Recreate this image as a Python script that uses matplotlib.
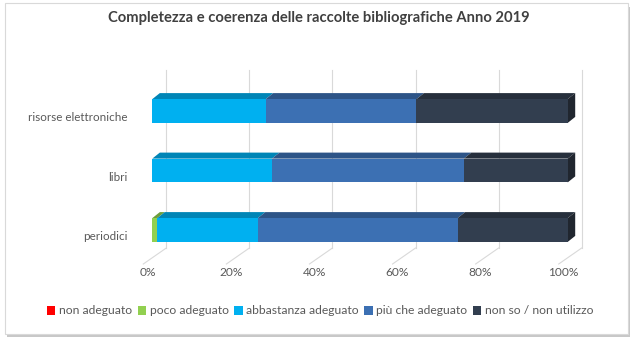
import numpy as np
import matplotlib.pyplot as plt
from matplotlib.patches import Polygon, Patch, FancyBboxPatch
import matplotlib.transforms as mtransforms

plt.rcParams['font.family'] = ['Lato', 'DejaVu Sans']

categories = ['periodici', 'libri', 'risorse elettroniche']
series = ['non adeguato', 'poco adeguato', 'abbastanza adeguato', 'più che adeguato', 'non so / non utilizzo']
values = {
    'non adeguato':          [0.0, 0.0, 0.0],
    'poco adeguato':         [1.2, 0.0, 0.0],
    'abbastanza adeguato':   [24.2, 28.8, 27.3],
    'più che adeguato':      [48.1, 46.2, 36.3],
    'non so / non utilizzo': [26.5, 25.0, 36.4],
}
front = ['#FF0000', '#92D050', '#00B0F0', '#3C70B3', '#323E4F']
top = ['#B30000', '#6E9E3C', '#0085B6', '#2D5487', '#262F3C']
side = ['#990000', '#5E8733', '#00729C', '#264873', '#20262F']
ticks = [0, 20, 40, 60, 80, 100]
tick_labels = ['0%', '20%', '40%', '60%', '80%', '100%']

fig = plt.figure(figsize=(6.33, 3.42), dpi=100)
W, H = 633, 342

# outer frame with soft shadow
fig.patches.append(FancyBboxPatch((7 / W, 5 / H), 623 / W, 330 / H, boxstyle='square,pad=0',
                                  transform=fig.transFigure, facecolor='#c8c8c8', edgecolor='none', zorder=-2))
fig.patches.append(FancyBboxPatch((5 / W, 8 / H), 623 / W, 331 / H, boxstyle='square,pad=0',
                                  transform=fig.transFigure, facecolor='white', edgecolor='#d9d9d9',
                                  linewidth=0.8, zorder=-1))

ax = fig.add_axes([152.3 / W, 1 - 259.75 / H, 415.4 / W, 178.5 / H])
ax.set_xlim(0, 100)
ax.set_ylim(-0.5, 2.5)
for s in ax.spines.values():
    s.set_visible(False)
ax.patch.set_alpha(0)

# 3D-like gridlines on back wall and floor
back = mtransforms.offset_copy(ax.transData, fig=fig, x=14, y=0, units='dots')
for t in ticks:
    ax.plot([t, t], [-0.5 + 11.75 / 59.5, -0.5 + 189.75 / 59.5], color='#d9d9d9', lw=0.8,
            transform=back, clip_on=False, zorder=0)
    ax.plot([t + 14 * 100 / 415.4, t - 9 * 100 / 415.4], [-0.5 + 11.75 / 59.5, -0.5 - 4.25 / 59.5],
            color='#d9d9d9', lw=0.8, clip_on=False, zorder=0)

h = 0.4
dx = 7.5 * 100 / 415.4
dy = 6 / 59.5
y = np.arange(len(categories))
left = np.zeros(len(categories))
for j, name in enumerate(series):
    w = np.array(values[name])
    ax.barh(y, w, left=left, height=h, color=front[j], zorder=3)
    for i in range(len(categories)):
        if w[i] <= 0:
            continue
        l, r = left[i], left[i] + w[i]
        yt = y[i] + h / 2
        ax.add_patch(Polygon([(l, yt), (r, yt), (r + dx, yt + dy), (l + dx, yt + dy)],
                             closed=True, facecolor=top[j], edgecolor='none', zorder=2, clip_on=False))
    left = left + w

last = len(series) - 1
for i in range(len(categories)):
    r = left[i]
    yb, yt = y[i] - h / 2, y[i] + h / 2
    ax.add_patch(Polygon([(r, yb), (r, yt), (r + dx, yt + dy), (r + dx, yb + dy)],
                         closed=True, facecolor=side[last], edgecolor='none', zorder=2, clip_on=False))

ax.set_yticks(y)
ax.set_yticklabels(categories, fontsize=8.4, color='#595959')
ax.set_xticks(ticks)
ax.set_xticklabels(tick_labels, fontsize=8.6, color='#595959')
ax.tick_params(axis='y', length=0, pad=18)
ax.tick_params(axis='x', length=0, pad=5)
for lab in ax.get_xticklabels():
    lab.set_transform(lab.get_transform() + mtransforms.ScaledTranslation(-4 / 100, 0, fig.dpi_scale_trans))
for lab in ax.get_yticklabels():
    lab.set_transform(lab.get_transform() + mtransforms.ScaledTranslation(0, -5.5 / 100, fig.dpi_scale_trans))

fig.text(0.503, 1 - 18 / H, 'Completezza e coerenza delle raccolte bibliografiche Anno 2019',
         ha='center', va='center', fontsize=10.6, fontweight='bold', color='#404040')

handles = [Patch(facecolor=c, edgecolor='none') for c in front]
fig.legend(handles, series, loc='center', bbox_to_anchor=(0.506, 1 - 311 / H), ncol=5, frameon=False,
           fontsize=8.7, handlelength=0.7, handleheight=0.7, handletextpad=0.3, columnspacing=0.45,
           labelcolor='#595959')

plt.savefig('out.png', dpi=100)
